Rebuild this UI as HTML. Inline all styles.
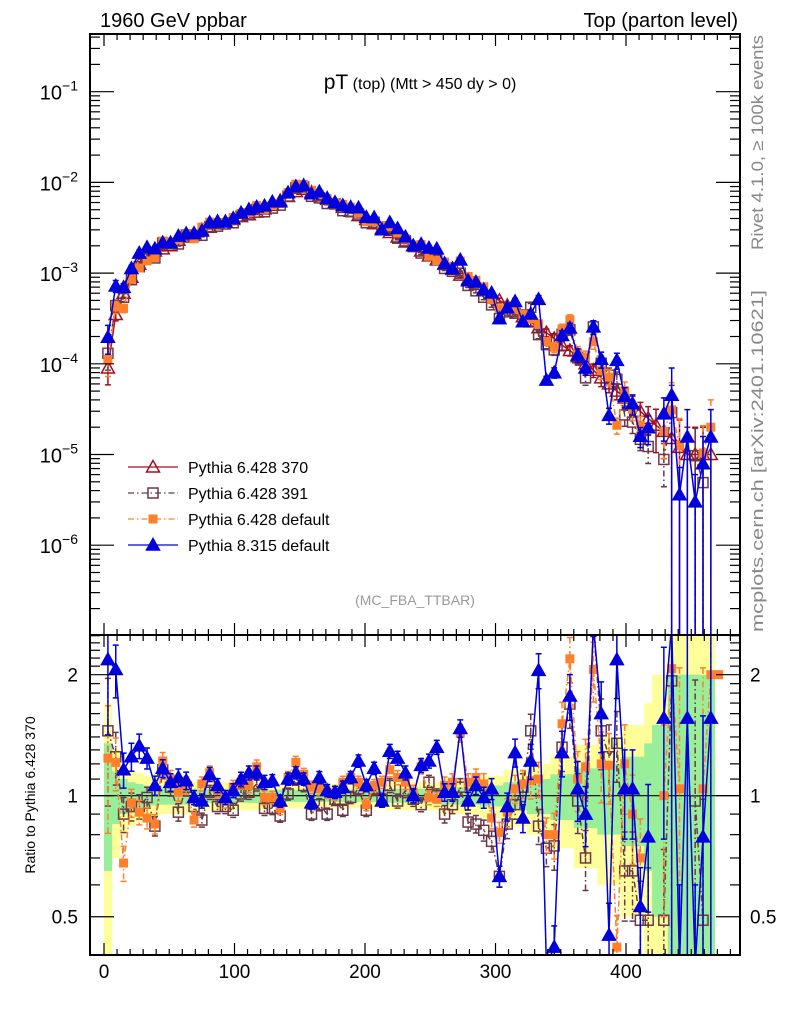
<!DOCTYPE html>
<html><head><meta charset="utf-8"><style>
html,body{margin:0;padding:0;background:#fff;overflow:hidden;width:786px;height:1024px}
svg{display:block}
svg text{font-family:"Liberation Sans",sans-serif}
</style></head><body>
<svg id="c" width="786" height="1024" xmlns="http://www.w3.org/2000/svg">
<defs>
<clipPath id="cm"><rect x="90" y="34" width="650" height="601"/></clipPath>
<clipPath id="cr"><rect x="90" y="635" width="650" height="320"/></clipPath>
</defs>
<g id="bands" clip-path="url(#cr)"></g>
<line x1="90" x2="740" y1="795.7" y2="795.7" stroke="#000" stroke-width="1.2"/>
<g id="main" clip-path="url(#cm)"></g>
<g id="ratio" clip-path="url(#cr)"></g>
<g id="axes"></g>
<rect x="90" y="34" width="650" height="601" fill="none" stroke="#000" stroke-width="2"/>
<rect x="90" y="635" width="650" height="320" fill="none" stroke="#000" stroke-width="2"/>
<text x="100" y="27" font-size="20">1960 GeV ppbar</text>
<text x="738" y="27" font-size="20" text-anchor="end">Top (parton level)</text>
<text x="420" y="89" text-anchor="middle"><tspan font-size="21">pT</tspan><tspan font-size="16"> (top) (Mtt &gt; 450 dy &gt; 0)</tspan></text>
<text x="415" y="605" font-size="14" fill="#999" text-anchor="middle">(MC_FBA_TTBAR)</text>
<text transform="translate(763,250) rotate(-90)" font-size="17" fill="#888" textLength="215" lengthAdjust="spacingAndGlyphs">Rivet 4.1.0, ≥ 100k events</text>
<text transform="translate(763,632) rotate(-90)" font-size="17" fill="#888" textLength="342" lengthAdjust="spacingAndGlyphs">mcplots.cern.ch [arXiv:2401.10621]</text>
<text transform="translate(35,795) rotate(-90)" font-size="14" text-anchor="middle">Ratio to Pythia 6.428 370</text>
<g id="legend"></g>
</svg>
<script>
const binCenters=[];for(let i=0;i<80;i++)binCenters.push(3+6*i);
const refValues=[9e-5,3.5e-4,6e-4,9e-4,1.25e-3,1.55e-3,1.75e-3,1.85e-3,2.0e-3,2.3e-3,2.5e-3,2.75e-3,3.0e-3,3.2e-3,3.5e-3,3.7e-3,3.9e-3,4.2e-3,4.4e-3,4.7e-3,5.1e-3,5.6e-3,6.3e-3,7.0e-3,7.9e-3,8.4e-3,7.8e-3,7.1e-3,6.5e-3,5.9e-3,5.3e-3,4.8e-3,4.3e-3,3.9e-3,3.5e-3,3.1e-3,2.8e-3,2.5e-3,2.2e-3,2.0e-3,1.75e-3,1.55e-3,1.4e-3,1.25e-3,1.1e-3,9.5e-4,8.5e-4,7.5e-4,6.6e-4,5.8e-4,5.0e-4,4.4e-4,3.8e-4,3.3e-4,2.9e-4,2.5e-4,2.2e-4,1.9e-4,1.6e-4,1.4e-4,1.2e-4,1.0e-4,8.5e-5,7e-5,6e-5,5e-5,4.2e-5,3.5e-5,3e-5,2.5e-5,2.1e-5,1.8e-5,1.5e-5,1.2e-5,1e-5,1e-5,1e-5,1e-5,null,null];
const refRelErr=[.35,.15,.10,.08,.07,.06,.055,.05,.05,.05,.05,.04,.04,.04,.04,.04,.04,.04,.04,.04,.04,.035,.035,.035,.035,.035,.035,.035,.035,.035,.035,.035,.035,.035,.035,.035,.04,.04,.04,.04,.04,.04,.04,.05,.05,.05,.05,.05,.06,.06,.06,.08,.08,.08,.10,.10,.10,.13,.13,.13,.17,.17,.17,.2,.2,.2,.25,.25,.25,.35,.5,.5,1,1,1,1,1,1,null,null];
const ratio391=[1.45,1.25,0.90,0.94,0.94,0.99,0.84,1.16,1.05,0.91,1.05,0.94,0.87,1.02,0.94,0.94,0.92,1.01,1.02,1.07,0.93,0.93,0.89,1.01,1.10,1.06,0.90,0.95,0.90,0.98,0.92,0.99,1.04,0.92,1.04,0.98,1.06,0.97,1.03,0.98,0.95,1.08,1.00,0.90,0.95,1.05,0.86,0.85,0.82,0.77,0.63,0.85,0.95,1.05,1.45,0.84,0.74,0.75,1.32,1.69,0.97,0.70,3.0,1.45,1.25,1.35,0.65,0.65,0.49,0.49,null,0.49,1.93,null,null,0.97,0.49,null,null,null];
const ratioDefault=[1.24,1.21,0.68,0.96,0.91,0.88,0.85,1.22,1.10,1.02,1.06,0.87,1.07,1.14,1.03,0.97,1.05,1.08,1.06,1.18,0.99,0.99,0.93,1.11,1.21,1.13,1.05,1.04,1.02,1.01,1.08,1.11,1.08,0.95,1.06,1.08,1.16,1.11,1.08,1.02,1.18,0.99,0.98,1.06,1.08,1.43,1.08,1.11,1.07,0.88,0.81,0.91,1.04,1.07,1.09,1.10,0.80,0.80,1.51,2.19,1.10,1.18,2.06,1.20,1.19,0.42,1.2,0.9,0.70,null,null,1.0,2.07,1.04,null,null,1.04,2.0,2.0,null];
const ratioPy8=[2.18,2.06,1.16,1.25,1.33,1.24,1.06,1.17,1.08,1.11,1.09,0.99,0.97,1.13,1.06,0.99,1.03,1.10,1.14,1.14,1.08,1.09,0.97,1.10,1.14,1.10,0.96,1.11,1.03,1.02,1.05,1.11,1.22,1.06,1.17,0.97,1.29,1.24,1.14,1.00,1.19,1.22,1.32,1.02,1.02,1.47,0.97,1.06,0.99,1.04,0.63,0.94,1.28,0.88,1.22,2.05,0.3,0.42,1.28,1.77,1.04,0.90,3.0,1.6,0.45,2.18,1.04,1.04,0.53,0.79,null,1.56,3.0,0.3,1.56,0.3,0.79,1.56,null,null];
const xTicks=[0,100,200,300,400];
const yDecades=[-1,-2,-3,-4,-5,-6];
const ratioTicks=[2,1,0.5];

const NS="http://www.w3.org/2000/svg";
function X(v){return 104+1.305*v;}
function Y(v){return 91.7-90.7*(Math.log10(v)+1);}
function R(r){return 795.7-402*Math.log10(r);}
function mk(tag,at,parent){const e=document.createElementNS(NS,tag);for(const k in at)e.setAttribute(k,at[k]);parent.appendChild(e);return e;}

const bg=document.getElementById('bands');
[[2,'#ffff99'],[1,'#99ee99']].forEach(([m,col])=>{
  refRelErr.forEach((e,i)=>{ if(e==null)return;
    const lo=Math.max(1-m*e,0.01),hi=1+m*e;
    const yt=Math.max(R(hi),635),yb=Math.min(R(lo),955);
    const r=mk('rect',{x:X(binCenters[i]-3),width:1.305*6+0.3,y:yt,height:Math.max(0,yb-yt),fill:col},bg);
    
    
  });
});

const series=[
 {name:'pythia-6428-370',ratio:null,color:'#a01020',dash:'',marker:'tri',fill:'none'},
 {name:'pythia-6428-391',ratio:ratio391,color:'#6b3848',dash:'6,3,1.5,3',marker:'sq',fill:'none'},
 {name:'pythia-6428-default',ratio:ratioDefault,color:'#ff7f2a',dash:'6,3,1.5,3',marker:'sq',fill:'#ff7f2a'},
 {name:'pythia-8315-default',ratio:ratioPy8,color:'#0000dd',dash:'',marker:'tri',fill:'#0000dd'}
];
function marker(g,x,y,s){
  let e;
  if(s.marker=='tri'){e=mk('polygon',{points:`${x},${y-6.5} ${x-6.5},${y+5} ${x+6.5},${y+5}`,fill:s.fill=='none'?'#fff':s.fill,'fill-opacity':s.fill=='none'?0:1,stroke:s.color,'stroke-width':1.5},g);}
  else{const w=s.fill=='none'?10:9;e=mk('rect',{x:x-w/2,y:y-w/2,width:w,height:w,fill:s.fill,stroke:s.fill=='none'?s.color:'none','stroke-width':1.5},g);}
  
  
}
function drawSeries(parent,s,valFn,yFn,top,bottom){
  const cl=y=>Math.min(bottom+10,Math.max(top-10,y));
  const g=mk('g',{},parent);
  
  
  const pts=[];
  binCenters.forEach((c,i)=>{const v=valFn(i);if(v==null)return;pts.push([X(c),yFn(v),v,i]);});
  let d='';let prev=-2;
  pts.forEach(p=>{d+=(p[3]==prev+1?'L':'M')+p[0].toFixed(1)+','+cl(p[1]).toFixed(1);prev=p[3];});
  const ln=mk('path',{d:d,fill:'none',stroke:s.color,'stroke-width':1.5,'stroke-dasharray':s.dash},g);
  
  
  pts.forEach(p=>{const e=refRelErr[p[3]]||0;const v=p[2];
    const y1=cl(yFn(v*(1+e))),y2=(1-e)<=0.001?bottom:cl(yFn(v*(1-e)));
    const eb=mk('path',{d:`M${p[0]},${y1}L${p[0]},${y2}M${p[0]-3},${y1}h6M${p[0]-3},${y2}h6`,stroke:s.color,'stroke-width':1.5,'stroke-dasharray':s.dash,fill:'none'},g);
    
    
    if(p[1]>top-8&&p[1]<bottom+8)marker(g,p[0],p[1],s);
  });
}
const mainG=document.getElementById('main'),ratG=document.getElementById('ratio');
series.forEach(s=>{
  drawSeries(mainG,s,i=>{if(refValues[i]==null)return null;if(!s.ratio)return refValues[i];const r=s.ratio[i];return r==null?null:refValues[i]*r;},Y,34,635);
  if(s.ratio)drawSeries(ratG,s,i=>s.ratio[i],R,635,955);
});

const ax=document.getElementById('axes');
function tk(x1,y1,x2,y2,name){const l=mk('line',{x1,y1,x2,y2,stroke:'#000','stroke-width':1.2},ax);}
for(let v=0;v<=480;v+=10){const x=X(v),big=v%100==0;
  [[34,1],[635,-1],[635,1],[955,-1]].forEach(([y,dir])=>tk(x,y,x,y+dir*(big?12:6),'x-tick'));}
xTicks.forEach(v=>{const t=mk('text',{x:X(v),y:978,'font-size':19,'text-anchor':'middle'},ax);t.textContent=v;});
for(let d=-7;d<=-1;d++){for(let m=1;m<10;m++){const v=m*Math.pow(10,d);const y=Y(v);if(y<34||y>635)continue;const L=m==1?24:10;
  tk(90,y,90+L,y,'y-tick');tk(740,y,740-L,y,'y-tick');}}
yDecades.forEach(d=>{const t=mk('text',{x:78,y:Y(Math.pow(10,d))+8,'font-size':20,'text-anchor':'end'},ax);
  
  const a=document.createElementNS(NS,'tspan');a.textContent='10';t.appendChild(a);
  const b=document.createElementNS(NS,'tspan');b.setAttribute('dy','-9');b.setAttribute('font-size','14');b.textContent='−'+(-d);t.appendChild(b);});
for(let r=0.4;r<=2.51;r+=0.1){const y=R(r);const big=Math.abs(r-1)<0.01||Math.abs(r-2)<0.01||Math.abs(r-0.5)<0.01;const L=big?24:10;
  if(y<635||y>955)continue;tk(90,y,90+L,y,'ratio-y-tick');tk(740,y,740-L,y,'ratio-y-tick');}
ratioTicks.forEach(r=>{[[78,'end'],[750,'start']].forEach(([x,a])=>{const t=mk('text',{x,y:R(r)+7,'font-size':19,'text-anchor':a},ax);t.textContent=r;});});

const lg=document.getElementById('legend');
const labels=['Pythia 6.428 370','Pythia 6.428 391','Pythia 6.428 default','Pythia 8.315 default'];
const ly=[467,493,519,545];
series.forEach((s,i)=>{const g=mk('g',{},lg);
  mk('line',{x1:128,x2:178,y1:ly[i],y2:ly[i],stroke:s.color,'stroke-width':1.3,'stroke-dasharray':s.dash},g);
  marker(g,153,ly[i],s);
  const t=mk('text',{x:188,y:ly[i]+6,'font-size':16},g);t.textContent=labels[i];});
</script>
</body></html>
